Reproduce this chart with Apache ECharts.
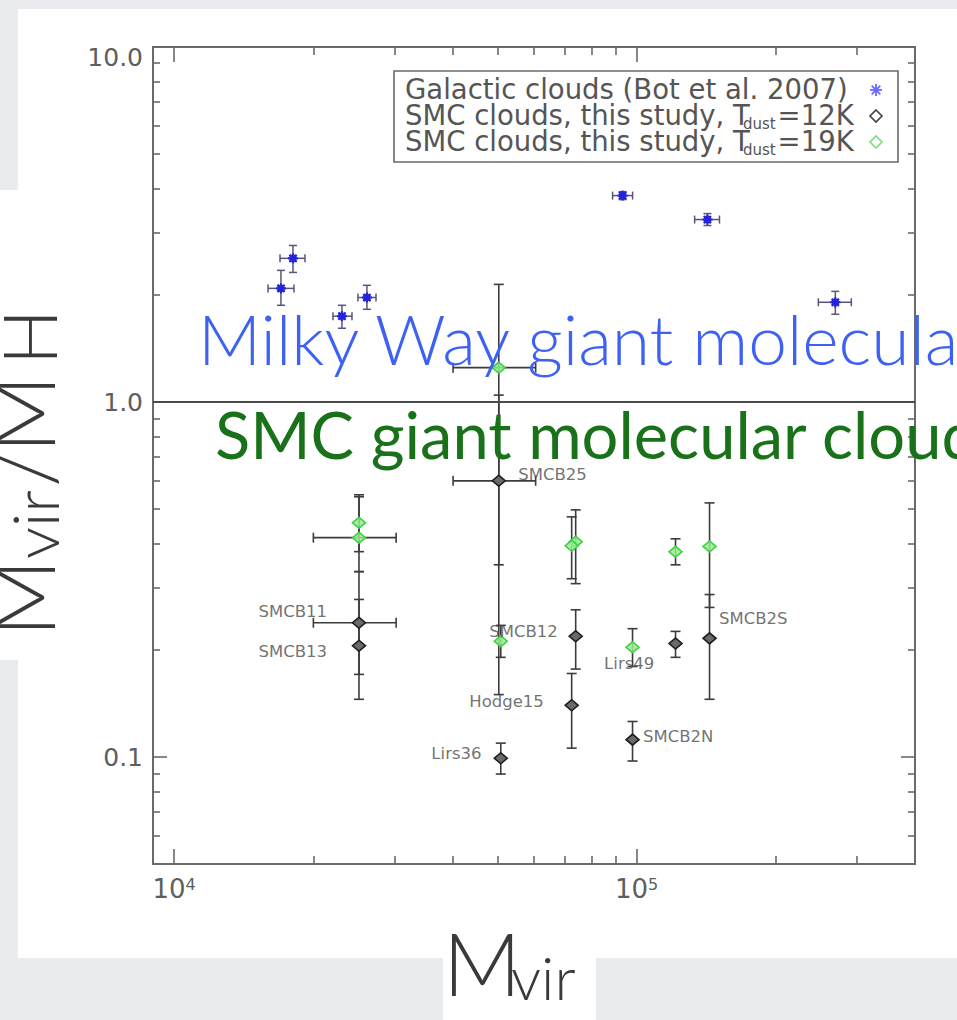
<!DOCTYPE html>
<html>
<head>
<meta charset="utf-8">
<script src="https://cdn.jsdelivr.net/npm/echarts@6/dist/echarts.min.js"></script>
<style>
  html, body { margin: 0; padding: 0; background: #e9ebee; }
  #chart { width: 957px; height: 1020px; }
</style>
</head>
<body>
<div id="chart"></div>
<script>
// ---- axis ranges and ticks ----
const xRange = [9000, 400000];
const yRange = [0.05, 10];
const xMajorTicks = [1e4, 1e5];
const xMinorTicks = [2e4, 3e4, 4e4, 5e4, 6e4, 7e4, 8e4, 9e4, 2e5, 3e5];
const yMajorTicks = [0.1, 1, 10];
const yMajorLabels = ['0.1', '1.0', '10.0'];
const yMinorTicks = [0.06, 0.07, 0.08, 0.09, 0.2, 0.3, 0.4, 0.5, 0.6, 0.7, 0.8, 0.9, 2, 3, 4, 5, 6, 7, 8, 9];

// ---- Galactic clouds (Bot et al. 2007) ----
const galMass    = [17020, 18070, 23060, 26110, 93270, 142300, 269000];
const galMassLo  = [15960, 16940, 22050, 24970, 88730, 133500, 247200];
const galMassHi  = [18160, 19180, 24240, 27320, 98020, 151100, 291300];
const galRatio   = [2.09, 2.54, 1.745, 1.97, 3.815, 3.266, 1.91];
const galRatioLo = [1.873, 2.318, 1.614, 1.825, 3.718, 3.142, 1.767];
const galRatioHi = [2.349, 2.761, 1.873, 2.132, 3.914, 3.395, 2.050];

// ---- SMC clouds, this study ----
const smcNames   = ['SMCB11', 'SMCB13', 'SMCB25', 'Lirs36', 'SMCB12', 'Hodge15', 'SMCB2N', 'Lirs49', 'SMCB2S'];
const smcMass    = [25100, 25100, 50350, 50850, 73840, 72380, 98000, 121400, 143800];
const smcMassLo  = [20000, null, 40100, null, null, null, null, null, null];
const smcMassHi  = [30200, null, 60500, null, null, null, null, null, null];
// T_dust = 12K
const ratio12    = [0.239, 0.206, 0.600, 0.0993, 0.219, 0.140, 0.112, 0.209, 0.216];
const ratio12Lo  = [0.1455, 0.171, 0.150, 0.0896, 0.177, 0.106, 0.0975, 0.191, 0.1455];
const ratio12Hi  = [0.278, 0.333, 1.046, 0.1095, 0.260, 0.172, 0.126, 0.226, 0.287];
// T_dust = 19K
const ratio19    = [0.415, 0.457, 1.25, 0.212, 0.404, 0.394, 0.204, 0.379, 0.392];
const ratio19Lo  = [0.333, 0.379, 0.348, 0.191, 0.308, 0.318, 0.180, 0.348, 0.264];
const ratio19Hi  = [0.548, 0.541, 2.145, 0.235, 0.497, 0.475, 0.230, 0.412, 0.520];

// ---- cloud name annotations (data coordinates of the label's left edge) ----
const labelNames = ['SMCB11', 'SMCB13', 'SMCB25', 'SMCB12', 'Hodge15', 'Lirs36', 'Lirs49', 'SMCB2N', 'SMCB2S'];
const labelMass  = [15180, 15180, 55340, 47890, 43360, 35900, 84860, 103000, 150400];
const labelRatio = [0.257, 0.1985, 0.624, 0.226, 0.1437, 0.1026, 0.1837, 0.1146, 0.2457];

// ---- legend and titles ----
const legendMain = ['Galactic clouds (Bot et al. 2007)', 'SMC clouds, this study, T', 'SMC clouds, this study, T'];
const legendSub  = ['', 'dust', 'dust'];
const legendTail = ['', '=12K', '=19K'];
const mwText  = 'Milky Way giant molecular clouds';
const smcText = 'SMC giant molecular clouds';

// ---------------------------------------------------------------
const axisColor = '#6a6a6a';
const tickFont = '"DejaVu Sans", sans-serif';

function rowsWithErrors(xs, ys, xlo, xhi, ylo, yhi) {
  return xs.map((x, i) => [
    x, ys[i],
    xlo[i] == null ? x : xlo[i], xhi[i] == null ? x : xhi[i],
    ylo[i] == null ? ys[i] : ylo[i], yhi[i] == null ? ys[i] : yhi[i]
  ]);
}

function errorBars(color, width, cap, withStar) {
  return function (params, api) {
    const x = api.value(0), y = api.value(1);
    const xl = api.value(2), xh = api.value(3), yl = api.value(4), yh = api.value(5);
    const st = { stroke: color, lineWidth: width };
    const kids = [];
    const seg = (a, b, c, d) => kids.push({ type: 'line', shape: { x1: a, y1: b, x2: c, y2: d }, style: st });
    if (yl !== yh) {
      const p1 = api.coord([x, yl]), p2 = api.coord([x, yh]);
      seg(p1[0], p1[1], p2[0], p2[1]);
      seg(p1[0] - cap, p1[1], p1[0] + cap, p1[1]);
      seg(p2[0] - cap, p2[1], p2[0] + cap, p2[1]);
    }
    if (xl !== xh) {
      const p1 = api.coord([xl, y]), p2 = api.coord([xh, y]);
      seg(p1[0], p1[1], p2[0], p2[1]);
      seg(p1[0], p1[1] - cap, p1[0], p1[1] + cap);
      seg(p2[0], p2[1] - cap, p2[0], p2[1] + cap);
    }
    if (withStar) {
      const c = api.coord([x, y]);
      const r = 5, d = 3.6;
      const s2 = { stroke: '#2424d8', lineWidth: 2.2 };
      kids.push({ type: 'rect', shape: { x: c[0] - 3.5, y: c[1] - 3.5, width: 7, height: 7 }, style: { fill: '#2a2ad6' } });
      [[-r, 0, r, 0], [0, -r, 0, r], [-d, -d, d, d], [-d, d, d, -d]].forEach(l =>
        kids.push({ type: 'line', shape: { x1: c[0] + l[0], y1: c[1] + l[1], x2: c[0] + l[2], y2: c[1] + l[3] }, style: s2 }));
    }
    return { type: 'group', children: kids };
  };
}

function makeX(pos, ticks, len, main, labels) {
  return {
    type: 'log', logBase: 10, min: xRange[0], max: xRange[1], position: pos,
    axisLine: { show: main, onZero: false, lineStyle: { color: axisColor, width: 2 } },
    axisTick: { show: true, inside: true, length: len, customValues: ticks, lineStyle: { color: axisColor, width: 1.6 } },
    axisLabel: labels ? {
      show: true, customValues: xMajorTicks, margin: 12, color: '#5e5e5e',
      fontFamily: tickFont, fontSize: 26,
      formatter: v => '{b|10}{s|' + Math.round(Math.log10(v)) + '}',
      rich: { b: { fontSize: 26, fontFamily: tickFont, color: '#5e5e5e' },
              s: { fontSize: 16, fontFamily: tickFont, color: '#5e5e5e', verticalAlign: 'top' } }
    } : { show: false },
    splitLine: { show: false }, minorTick: { show: false }
  };
}
function makeY(pos, ticks, len, main, labels) {
  return {
    type: 'log', logBase: 10, min: yRange[0], max: yRange[1], position: pos,
    axisLine: { show: main, onZero: false, lineStyle: { color: axisColor, width: 2 } },
    axisTick: { show: true, inside: true, length: len, customValues: ticks, lineStyle: { color: axisColor, width: 1.6 } },
    axisLabel: labels ? {
      show: true, customValues: yMajorTicks, margin: 10, color: '#5e5e5e',
      fontFamily: tickFont, fontSize: 25,
      formatter: v => {
        const i = yMajorTicks.findIndex(t => Math.abs(t - v) / t < 1e-6);
        return i === yMajorTicks.length - 1 ? '{top|' + yMajorLabels[i] + '}' : yMajorLabels[i];
      },
      rich: { top: { fontSize: 25, fontFamily: tickFont, color: '#5e5e5e', padding: [20, 0, 0, 0] } }
    } : { show: false },
    splitLine: { show: false }, minorTick: { show: false }
  };
}

// text measurement for laying out the legend pieces
const mctx = document.createElement('canvas').getContext('2d');
function textW(str, font) { mctx.font = font; return mctx.measureText(str).width; }

const legFontSize = 27.5, legSubSize = 15;
const legFont = legFontSize + 'px "DejaVu Sans"';
const legSubFont = legSubSize + 'px "DejaVu Sans"';
const legX = 405, legBase = [99, 125, 151];
const legendGraphics = [{
  type: 'rect', shape: { x: 394, y: 71, width: 504, height: 91 },
  style: { fill: '#fff', stroke: '#6a6a6a', lineWidth: 1.6 }, z: 10
}];
legendMain.forEach((txt, i) => {
  const b = legBase[i];
  legendGraphics.push({ type: 'text', z: 11, style: { text: txt, x: legX, y: b - 0.35 * legFontSize, font: legFont, fill: '#555', verticalAlign: 'middle' } });
  if (legendSub[i]) {
    const sx = legX + textW(txt, legFont) - 7;
    legendGraphics.push({ type: 'text', z: 11, style: { text: legendSub[i], x: sx, y: b + 4 - 0.35 * legSubSize, font: legSubFont, fill: '#555', verticalAlign: 'middle' } });
    const tx = sx + textW(legendSub[i], legSubFont) + 2;
    legendGraphics.push({ type: 'text', z: 11, style: { text: legendTail[i], x: tx, y: b - 0.35 * legFontSize, font: legFont, fill: '#555', verticalAlign: 'middle' } });
  }
});
// legend symbols
(function () {
  const cx = 876;
  const r = 6, d = 4.3;
  [[-r, 0, r, 0], [0, -r, 0, r], [-d, -d, d, d], [-d, d, d, -d]].forEach(l =>
    legendGraphics.push({ type: 'line', z: 11, shape: { x1: cx + l[0], y1: 90 + l[1], x2: cx + l[2], y2: 90 + l[3] }, style: { stroke: '#6a6aff', lineWidth: 1.8 } }));
  legendGraphics.push({ type: 'polygon', z: 11, shape: { points: [[cx, 110], [cx + 6, 116], [cx, 122], [cx - 6, 116]] }, style: { fill: 'none', stroke: '#444', lineWidth: 1.6 } });
  legendGraphics.push({ type: 'polygon', z: 11, shape: { points: [[cx, 136], [cx + 6, 142], [cx, 148], [cx - 6, 142]] }, style: { fill: 'none', stroke: '#7ddc7d', lineWidth: 1.6 } });
})();

const titleFont = 'Lato, "Open Sans", sans-serif';
const slideGraphics = [
  { type: 'rect', z: -10, silent: true, shape: { x: 0, y: 0, width: 957, height: 1020 }, style: { fill: '#e9ebee' } },
  { type: 'rect', z: -9, silent: true, shape: { x: 18, y: 9, width: 939, height: 949 }, style: { fill: '#ffffff' } },
  { type: 'rect', z: -9, silent: true, shape: { x: 0, y: 190, width: 18, height: 470 }, style: { fill: '#ffffff' } },
  { type: 'rect', z: -9, silent: true, shape: { x: 443, y: 958, width: 153, height: 62 }, style: { fill: '#ffffff' } },
  // overlay captions
  { type: 'text', z: 100, style: { text: mwText, x: 198, y: 363 - 0.36 * 69.5, font: '300 69.5px ' + titleFont, fill: '#3d62f3', verticalAlign: 'middle' } },
  { type: 'text', z: 100, style: { text: smcText, x: 215, y: 457 - 0.36 * 65, font: '65px ' + titleFont, fill: '#197219', verticalAlign: 'middle' } },
  // x title
  { type: 'text', z: 100, style: { text: 'M', x: 443, y: 993 - 0.36 * 86, font: '300 86px ' + titleFont, fill: '#3a3a3a', verticalAlign: 'middle' } },
  { type: 'text', z: 100, style: { text: 'vir', x: 511, y: 999 - 0.36 * 60, font: '300 60px ' + titleFont, fill: '#3a3a3a', verticalAlign: 'middle' } },
  // y title, reading upward
  {
    type: 'group', x: 52, y: 637, rotation: Math.PI / 2, z: 100,
    children: [
      { type: 'text', style: { text: 'M', x: 0, y: -0.36 * 86, font: '300 86px ' + titleFont, fill: '#3a3a3a', verticalAlign: 'middle' } },
      { type: 'text', style: { text: 'vir', x: 78, y: 6 - 0.36 * 64, font: '300 64px ' + titleFont, fill: '#3a3a3a', verticalAlign: 'middle' } },
      { type: 'text', style: { text: '/', x: 150, y: -0.36 * 86, font: '300 86px ' + titleFont, fill: '#3a3a3a', verticalAlign: 'middle' } },
      { type: 'text', style: { text: 'M', x: 184, y: -0.36 * 86, font: '300 86px ' + titleFont, fill: '#3a3a3a', verticalAlign: 'middle' } },
      { type: 'text', style: { text: 'H', x: 272, y: 3 - 0.36 * 74, font: '300 74px ' + titleFont, fill: '#3a3a3a', verticalAlign: 'middle' } }
    ]
  }
];

const option = {
  animation: false,
  grid: { left: 153, top: 47, right: 42, bottom: 156, containLabel: false },
  xAxis: [
    makeX('bottom', xMajorTicks, 15, true, true),
    makeX('bottom', xMinorTicks, 8, false, false),
    makeX('top', xMajorTicks, 15, true, false),
    makeX('top', xMinorTicks, 8, false, false)
  ],
  yAxis: [
    makeY('left', yMajorTicks, 14, true, true),
    makeY('left', yMinorTicks, 7, false, false),
    makeY('right', yMajorTicks, 14, true, false),
    makeY('right', yMinorTicks, 7, false, false)
  ],
  series: [
    {
      type: 'custom', name: 'Galactic clouds', xAxisIndex: 0, yAxisIndex: 0, z: 5,
      encode: { x: 0, y: 1 },
      data: rowsWithErrors(galMass, galRatio, galMassLo, galMassHi, galRatioLo, galRatioHi),
      renderItem: errorBars('#55557e', 1.5, 4, true)
    },
    {
      type: 'custom', name: 'SMC 12K errors', xAxisIndex: 0, yAxisIndex: 0, z: 3,
      encode: { x: 0, y: 1 },
      data: rowsWithErrors(smcMass, ratio12, smcMassLo, smcMassHi, ratio12Lo, ratio12Hi),
      renderItem: errorBars('#3c3c3c', 1.6, 5, false)
    },
    {
      type: 'custom', name: 'SMC 19K errors', xAxisIndex: 0, yAxisIndex: 0, z: 3,
      encode: { x: 0, y: 1 },
      data: rowsWithErrors(smcMass, ratio19, smcMassLo, smcMassHi, ratio19Lo, ratio19Hi),
      renderItem: errorBars('#3c3c3c', 1.6, 5, false)
    },
    {
      type: 'scatter', name: 'SMC 12K', xAxisIndex: 0, yAxisIndex: 0, z: 6,
      symbol: 'diamond', symbolSize: [13, 11],
      itemStyle: { color: '#6a6a6a', borderColor: '#1e1e1e', borderWidth: 1.6, opacity: 1 },
      data: smcMass.map((x, i) => [x, ratio12[i]]),
      markLine: {
        silent: true, symbol: 'none', label: { show: false },
        lineStyle: { color: '#4a4a4a', width: 2, type: 'solid' },
        data: [{ yAxis: 1 }]
      }
    },
    {
      type: 'scatter', name: 'SMC 19K', xAxisIndex: 0, yAxisIndex: 0, z: 6,
      symbol: 'diamond', symbolSize: [13, 11],
      itemStyle: { color: 'rgba(150,235,150,0.85)', borderColor: '#3fcf3f', borderWidth: 1.6, opacity: 1 },
      data: smcMass.map((x, i) => [x, ratio19[i]])
    },
    {
      type: 'scatter', name: 'names', xAxisIndex: 0, yAxisIndex: 0, z: 7,
      symbolSize: 1, itemStyle: { color: 'rgba(0,0,0,0)' },
      data: labelMass.map((x, i) => [x, labelRatio[i], labelNames[i]]),
      label: {
        show: true, position: 'right', distance: 0, align: 'left', verticalAlign: 'middle',
        formatter: p => p.data[2], color: '#4d4d4d', fontFamily: tickFont, fontSize: 16.5
      }
    }
  ],
  graphic: slideGraphics.concat(legendGraphics)
};

const chart = echarts.init(document.getElementById('chart'), null, { renderer: 'svg', width: 957, height: 1020 });
chart.setOption(option);
</script>
</body>
</html>
